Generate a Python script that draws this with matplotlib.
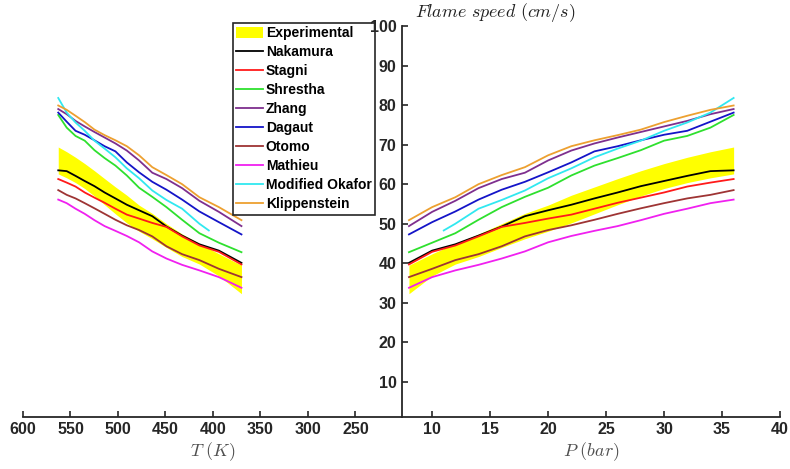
import numpy as np
import matplotlib
matplotlib.use('Agg')
import matplotlib.pyplot as plt

plt.rcParams['font.family'] = ['Liberation Sans', 'DejaVu Sans']
plt.rcParams['mathtext.fontset'] = 'cm'

# condiciones (compresion): presion y temperatura de cada punto
P = [8, 10, 12, 14, 16, 18, 20, 22, 24, 26, 28, 30, 32, 34, 36]
T = [370.0, 393.8, 414.3, 432.5, 449.0, 463.9, 477.8, 490.7, 502.7, 514.1,
     524.8, 535.0, 544.7, 554.0, 562.9]

# banda experimental
exp_top = [39.5, 42.4, 45.0, 47.4, 50.0, 52.6, 54.7, 57.2, 59.3, 61.4, 63.4, 65.2, 66.8, 68.2, 69.4]
exp_bot = [32.3, 36.8, 39.8, 41.7, 44.0, 46.2, 48.1, 50.2, 52.5, 54.8, 57.0, 58.9, 60.4, 61.6, 62.6]

nakamura = [40.1, 43.2, 44.8, 47.0, 49.3, 51.9, 53.4, 54.8, 56.4, 57.9, 59.5, 60.8, 62.1, 63.3, 63.5]
stagni = [39.7, 42.9, 44.5, 46.8, 49.2, 50.2, 51.3, 52.3, 53.8, 55.3, 56.6, 57.9, 59.4, 60.4, 61.3]
shrestha = [42.8, 45.2, 47.6, 51.0, 54.2, 56.8, 59.1, 62.2, 64.7, 66.6, 68.6, 71.0, 72.2, 74.3, 77.5]
zhang = [49.4, 53.0, 55.8, 59.0, 61.3, 62.9, 66.0, 68.5, 70.3, 71.8, 73.2, 74.6, 76.0, 77.7, 79.0]
dagaut = [47.3, 50.4, 53.1, 56.1, 58.6, 60.6, 63.0, 65.5, 68.3, 69.6, 71.1, 72.5, 73.5, 75.8, 78.1]
otomo = [36.5, 38.6, 40.8, 42.3, 44.3, 46.8, 48.4, 49.6, 51.0, 52.5, 53.9, 55.2, 56.4, 57.3, 58.5]
mathieu = [33.8, 36.5, 38.2, 39.6, 41.2, 43.0, 45.3, 46.9, 48.2, 49.4, 50.9, 52.5, 53.8, 55.2, 56.1]
klippenstein = [50.9, 54.2, 56.7, 60.0, 62.3, 64.3, 67.3, 69.6, 71.1, 72.4, 73.8, 75.7, 77.3, 78.8, 79.9]

# Modified Okafor empieza en 11 bar
P_okafor = [11, 12, 14, 16, 18, 20, 22, 24, 26, 28, 30, 32, 34, 36]
T_okafor = [404.4, 414.3, 432.5, 449.0, 463.9, 477.8, 490.7, 502.7, 514.1,
            524.8, 535.0, 544.7, 554.0, 562.9]
okafor = [48.3, 50.0, 53.8, 56.0, 58.4, 61.5, 64.0, 66.8, 69.0, 71.0, 73.5, 75.6, 78.1, 81.8]

T_ticks = [600, 550, 500, 450, 400, 350, 300, 250]
P_ticks = [10, 15, 20, 25, 30, 35, 40]
y_ticks = [10, 20, 30, 40, 50, 60, 70, 80, 90, 100]

models = [
    ('Nakamura', nakamura, 'black'),
    ('Stagni', stagni, '#ff1a1a'),
    ('Shrestha', shrestha, '#2ee02e'),
    ('Zhang', zhang, '#7e2f8e'),
    ('Dagaut', dagaut, '#1414c8'),
    ('Otomo', otomo, '#9e3434'),
    ('Mathieu', mathieu, '#f020f0'),
    ('Modified Okafor', okafor, '#30e8f0'),
    ('Klippenstein', klippenstein, '#eda030'),
]

axcol = '#262626'
fig = plt.figure(figsize=(7.9, 4.69), dpi=100)
bot, top = 52.3 / 469, 443 / 469
axT = fig.add_axes([23 / 790, bot, 379 / 790, top - bot])
axP = fig.add_axes([402 / 790, bot, 378 / 790, top - bot], sharey=axT)

for ax, x, xo in [(axT, T, T_okafor), (axP, P, P_okafor)]:
    ax.fill_between(x, exp_bot, exp_top, color='#ffff00', lw=0, label='Experimental')
    for name, vals, col in models:
        xx = xo if name == 'Modified Okafor' else x
        ax.plot(xx, vals, color=col, lw=1.3, label=name)
    for s in ax.spines.values():
        s.set_color(axcol)
        s.set_linewidth(1.3)
    ax.spines['top'].set_visible(False)
    ax.spines['right'].set_visible(False)
    ax.tick_params(direction='in', length=4, width=1.2, color=axcol,
                   labelsize=11.5, labelcolor=axcol)

axT.set_xlim(600, 201)
axT.set_xticks(T_ticks)
axT.spines['left'].set_visible(False)
axT.tick_params(axis='y', left=False, labelleft=False)
axT.set_xlabel(r'$T\ (K)$', fontsize=13, color='#505050', labelpad=3)

axP.set_xlim(7.4, 40)
axP.set_xticks(P_ticks)
axP.set_ylim(1.2, 100)
axP.set_yticks(y_ticks)
axP.tick_params(axis='y', pad=4)
axP.set_xlabel(r'$P\ (bar)$', fontsize=13, color='#505050', labelpad=3)
for lab in axP.get_xticklabels() + axP.get_yticklabels() + axT.get_xticklabels():
    lab.set_fontweight('bold')

fig.text(415 / 790, 1 - 12 / 469, r'$Flame\ speed\ (cm/s)$', fontsize=13,
         color='#202020', ha='left', va='center')

leg = axT.legend(loc='upper left', bbox_to_anchor=(233 / 790, 1 - 23 / 469),
                 bbox_transform=fig.transFigure, fancybox=False, framealpha=1,
                 edgecolor=axcol, fontsize=10, handlelength=1.9, handleheight=0.9,
                 handletextpad=0.2, labelspacing=0.36, borderpad=0.25, borderaxespad=0)
leg.get_frame().set_linewidth(1.2)
for t in leg.get_texts():
    t.set_fontweight('bold')

fig.savefig('out.png', dpi=100)
